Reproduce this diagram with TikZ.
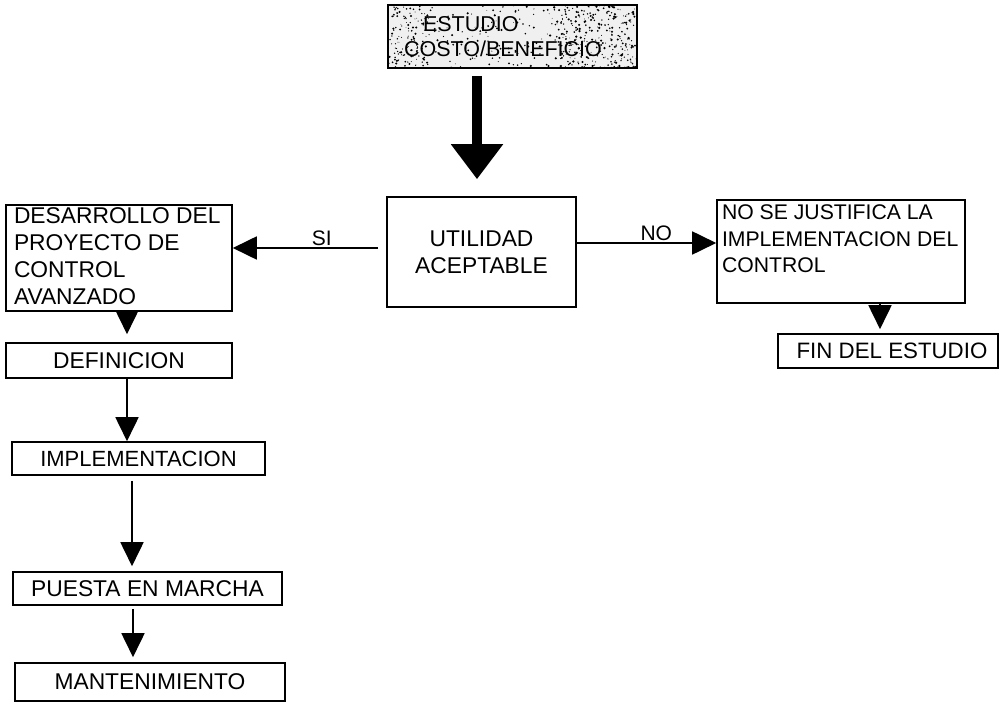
\documentclass[tikz,border=0pt]{standalone}
\usepackage{fontspec}
\setmainfont{Liberation Sans}
\usetikzlibrary{arrows.meta,backgrounds,calc}

\begin{document}
\begin{tikzpicture}[x=1pt,y=-1pt,
  every node/.style={font=\fontsize{22.8}{26.7}\selectfont},
  box/.style={draw, line width=1.6pt, inner sep=0pt},
  conn/.style={line width=1.8pt, -{Triangle[length=24pt,width=23pt]}},
  lbl/.style={font=\fontsize{21}{24}\selectfont, inner sep=1.5pt}
]
\useasboundingbox (0,0) rectangle (1005,703);

% boxes
\node[box, minimum width=249pt, minimum height=63pt, text width=217pt, align=left,
      font=\fontsize{21.5}{25}\selectfont]
  (top) at (512.5,36.5) {\hspace*{19pt}ESTUDIO\\COSTO/BENEFICIO};
\node[box, minimum width=189pt, minimum height=110pt, align=center]
  (util) at (481.5,252) {UTILIDAD\\ACEPTABLE};
\node[box, minimum width=226pt, minimum height=106pt]
  (desa) at (119,258) {\parbox[c][100pt][t]{210pt}{\mbox{DESARROLLO DEL}\\\mbox{PROYECTO DE}\\\mbox{CONTROL}\\\mbox{AVANZADO}}};
\node[box, minimum width=248pt, minimum height=103pt, font=\fontsize{21.2}{26.3}\selectfont]
  (nojust) at (841,251.5) {\parbox[c][93pt][t]{238pt}{\mbox{NO SE JUSTIFICA LA}\\\mbox{IMPLEMENTACION DEL}\\\mbox{CONTROL}}};
\node[box, minimum width=220pt, minimum height=34pt, font=\fontsize{22.3}{26}\selectfont]
  (fin) at (888,351) {\hspace*{8pt}FIN DEL ESTUDIO};
\node[box, minimum width=226pt, minimum height=35pt] (def) at (119,360.5) {DEFINICION};
\node[box, minimum width=253pt, minimum height=33pt, font=\fontsize{22}{26}\selectfont]
  (impl) at (138.5,458.5) {IMPLEMENTACION};
\node[box, minimum width=269pt, minimum height=33pt] (puesta) at (147.5,588.5) {PUESTA EN MARCHA};
\node[box, minimum width=270pt, minimum height=38pt] (mant) at (150,682) {MANTENIMIENTO};

% speckled texture behind the title box
\begin{scope}[on background layer]
  \fill[gray!12] (top.south west) rectangle (top.north east);
  \begin{scope}
    \clip (top.south west) rectangle (top.north east);
    \pgfmathsetseed{42}
    \foreach \i in {1,...,260}
      \fill (388+249*rnd, 5+63*rnd) circle ({0.4+0.8*rnd});
    \foreach \i in {1,...,220}
      \fill (555+82*rnd, 5+63*rnd) circle ({0.4+0.9*rnd});
    \foreach \i in {1,...,90}
      \fill (388+40*rnd, 5+63*rnd) circle ({0.4+0.8*rnd});
  \end{scope}
\end{scope}

% heavy arrow from the study to the decision
\draw[line width=10pt, -{Triangle[length=35pt,width=50pt]}, shorten <=7pt, shorten >=17pt]
  ($(util.north |- top.south)+(-4.5,0)$) -- ($(util.north)+(-4.5,0)$);

% decision branches
\draw[conn, shorten <=8pt] ([yshift=4pt]util.west) -- ([yshift=4pt]util.west -| desa.east)
  node[lbl, above, pos=0.42] {SI};
\draw[conn] ([yshift=9pt]util.east) -- ([yshift=9pt]util.east -| nojust.west)
  node[lbl, above, pos=0.57] {NO};

% project sequence
\draw[conn, shorten >=8pt] ([xshift=8pt]desa.south) -- ([xshift=8pt]def.north);
\draw[conn] ([xshift=8pt]def.south) -- ([xshift=-11.5pt]impl.north);
\draw[conn, shorten <=5pt, shorten >=5pt] ([xshift=-6.5pt]impl.south) -- ([xshift=-15.5pt]puesta.north);
\draw[conn, shorten <=3pt, shorten >=5pt] ([xshift=-14.5pt]puesta.south) -- ([xshift=-17pt]mant.north);

% end of study
\draw[conn, shorten >=4pt] ([xshift=39pt]nojust.south) -- ([xshift=-8pt]fin.north);
\end{tikzpicture}
\end{document}
